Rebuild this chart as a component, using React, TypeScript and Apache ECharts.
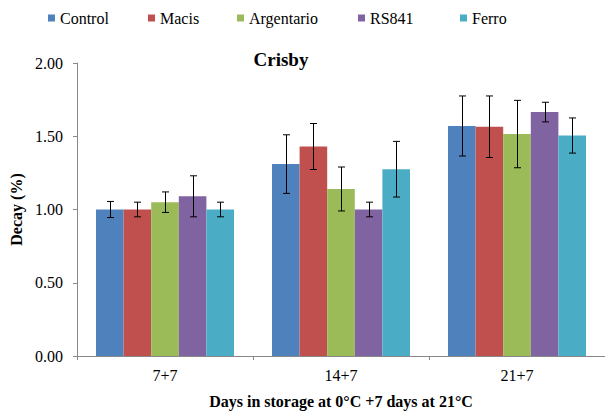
import React, { useEffect, useRef } from "react";
import * as echarts from "echarts";

const categories = ["7+7", "14+7", "21+7"];
const seriesNames = ["Control", "Macis", "Argentario", "RS841", "Ferro"];
const colors = ["#4F81BD", "#C0504D", "#9BBB59", "#8064A2", "#4BACC6"];
const control = [1.0, 1.31, 1.57];
const macis = [1.0, 1.43, 1.565];
const argentario = [1.05, 1.14, 1.515];
const rs841 = [1.09, 1.0, 1.665];
const ferro = [1.0, 1.275, 1.505];
const controlErr = [0.055, 0.2, 0.205];
const macisErr = [0.05, 0.157, 0.21];
const argentarioErr = [0.07, 0.15, 0.23];
const rs841Err = [0.14, 0.05, 0.067];
const ferroErr = [0.05, 0.19, 0.12];
const yTicks = [0, 0.5, 1.0, 1.5, 2.0];
const legendLeft = [51, 151, 240, 361, 463];

const values = [control, macis, argentario, rs841, ferro];
const errors = [controlErr, macisErr, argentarioErr, rs841Err, ferroErr];

const FONT = "Liberation Serif";
const BAR_W = 27.6;

export default function App() {
  const ref = useRef<HTMLDivElement>(null);
  useEffect(() => {
    if (!ref.current) return;
    const chart = echarts.init(ref.current, undefined, { renderer: "svg" });
    const bars = seriesNames.map((name, i) => ({
      name,
      type: "bar",
      data: values[i],
      barWidth: BAR_W,
      barGap: "0%",
      itemStyle: { color: colors[i] },
      z: 2,
    }));
    const errSeries = seriesNames.map((name, i) => ({
      name: name + "_err",
      type: "custom",
      data: values[i].map((v, j) => [j, v, errors[i][j]]),
      z: 5,
      renderItem: (params: any, api: any) => {
        const c = api.value(0);
        const v = api.value(1);
        const e = api.value(2);
        const top = api.coord([c, v + e]);
        const bot = api.coord([c, v - e]);
        const x = Math.round(top[0] + (i - 2) * BAR_W) + 0.5;
        const cap = 3.5;
        const st = { stroke: "#000", lineWidth: 1 };
        return {
          type: "group",
          children: [
            { type: "line", shape: { x1: x, y1: top[1], x2: x, y2: bot[1] }, style: st },
            { type: "line", shape: { x1: x - cap, y1: top[1], x2: x + cap, y2: top[1] }, style: st },
            { type: "line", shape: { x1: x - cap, y1: bot[1], x2: x + cap, y2: bot[1] }, style: st },
          ],
        };
      },
    }));
    chart.setOption({
      animation: false,
      textStyle: { fontFamily: FONT },
      title: {
        text: "Crisby",
        left: 276,
        textAlign: "center",
        top: 45,
        textStyle: { fontFamily: FONT, fontSize: 19, fontWeight: "bold", color: "#000" },
      },
      legend: seriesNames.map((n, i) => ({
        data: [n],
        left: legendLeft[i] - 3,
        top: 10,
        padding: 0,
        itemWidth: 7,
        itemHeight: 7,
        icon: "rect",
        textStyle: { fontFamily: FONT, fontSize: 16, color: "#000" },
      })),
      grid: { left: 77, right: -11, top: 63, bottom: 55 },
      xAxis: {
        type: "category",
        data: categories,
        axisLine: { lineStyle: { color: "#898989" } },
        axisTick: { show: true, length: 4, lineStyle: { color: "#898989" } },
        axisLabel: { fontFamily: FONT, fontSize: 16, color: "#000", margin: 11 },
        name: "Days in storage at 0°C +7 days at 21°C",
        nameLocation: "middle",
        nameGap: 37,
        nameTextStyle: { fontFamily: FONT, fontSize: 16, fontWeight: "bold", color: "#000" },
      },
      yAxis: {
        type: "value",
        min: 0,
        max: 2,
        interval: 0.5,
        splitLine: { show: false },
        axisLine: { show: true, lineStyle: { color: "#898989" } },
        axisTick: { show: true, length: 4, lineStyle: { color: "#898989" } },
        axisLabel: {
          fontFamily: FONT,
          fontSize: 16,
          color: "#000",
          margin: 14,
          formatter: (v: number) => (yTicks.includes(v) ? v.toFixed(2) : ""),
        },
        name: "Decay (%)",
        nameLocation: "middle",
        nameGap: 48,
        nameTextStyle: { fontFamily: FONT, fontSize: 16, fontWeight: "bold", color: "#000" },
      },
      series: [...bars, ...errSeries],
    });
    return () => chart.dispose();
  }, []);
  return (
    <>
      <style>{"#crisby-chart text { font-family: 'Liberation Serif', 'Times New Roman', serif !important; }"}</style>
      <div
        id="crisby-chart"
        ref={ref}
        style={{ position: "fixed", left: 0, top: 0, width: 605, height: 414, background: "#fff" }}
      />
    </>
  );
}
